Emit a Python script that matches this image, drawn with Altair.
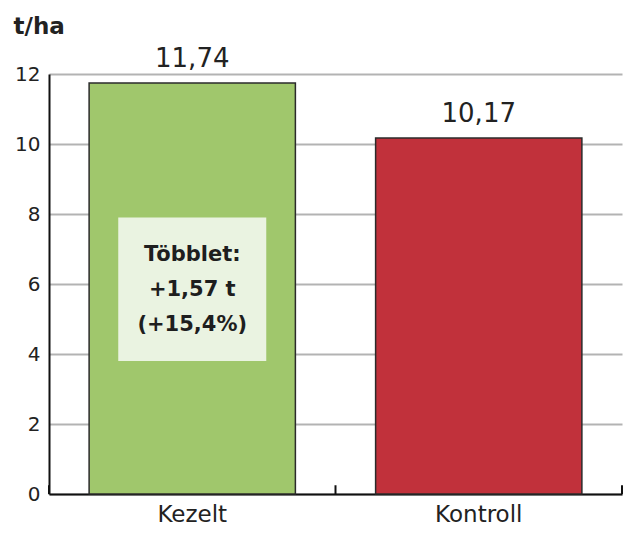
import altair as alt
import pandas as pd

categories = ["Kezelt", "Kontroll"]
values = [11.74, 10.17]
colors = ["#a0c76c", "#c1313b"]
value_labels = ["11,74", "10,17"]
y_ticks = [0, 2, 4, 6, 8, 10, 12]
box_category = ["Kezelt"]
box_top = [7.9]
box_bottom = [3.8]
box_text_pos = [6.83]
box_lines = ["Többlet:", "+1,57 t", "(+15,4%)"]
tick_positions = [0, 1, 2]

FONT = "DejaVu Sans"
W, H = 573, 420

df = pd.DataFrame({"cat": categories, "val": values, "label": value_labels})
box_df = pd.DataFrame({"cat": box_category, "val": box_top, "val2": box_bottom})
txt_df = pd.DataFrame({"cat": box_category, "val": box_text_pos})
txt_df["txt"] = [box_lines]
tick_df = pd.DataFrame({"pos": tick_positions})

xscale = alt.Scale(domain=categories, paddingInner=0.28, paddingOuter=0.14)
x = alt.X("cat:N", sort=categories, scale=xscale,
          axis=alt.Axis(title=None, labelAngle=0, labelFontSize=23, labelFont=FONT,
                        labelColor="#222", labelPadding=9, ticks=False,
                        domainColor="#111", domainWidth=2))
yscale = alt.Scale(domain=[0, 12])
y = alt.Y("val:Q", scale=yscale,
          axis=alt.Axis(values=y_ticks, title="t/ha", titleAngle=0, titleAlign="left",
                        titleBaseline="alphabetic", titleX=-36, titleY=-41,
                        titleFontSize=23, titleFont=FONT, titleFontWeight="bold",
                        titleColor="#222", labelFontSize=20, labelFont=FONT,
                        labelColor="#222", labelPadding=9, ticks=False,
                        domainColor="#111", domainWidth=2,
                        gridColor="#b3b3b3", gridWidth=2))

bars = alt.Chart(df).mark_bar(stroke="#2b2b2b", strokeWidth=1.5).encode(
    x=x, y=y,
    color=alt.Color("cat:N", scale=alt.Scale(domain=categories, range=colors), legend=None),
)

labels = alt.Chart(df).mark_text(font=FONT, fontSize=26, color="#222",
                                 baseline="alphabetic", dy=-16).encode(
    x=x, y=y, text="label:N")

box = alt.Chart(box_df).mark_bar(size=148, color="#eaf3e1").encode(
    x=x, y=y, y2="val2:Q")

box_text = alt.Chart(txt_df).mark_text(font=FONT, fontSize=21, fontWeight="bold",
                                       color="#1e1e1e", lineHeight=35,
                                       baseline="middle").encode(
    x=x, y=y, text="txt")

main = alt.layer(bars, box, box_text, labels)

ticks = alt.Chart(tick_df).mark_rule(color="#111", strokeWidth=2).encode(
    x=alt.X("pos:Q", scale=alt.Scale(domain=[0, 2], nice=False), axis=None),
    y=alt.datum(0),
    y2=alt.datum(0.25),
)

chart = alt.layer(main, ticks).resolve_scale(x="independent").properties(
    width=W, height=H,
    padding={"left": 41, "top": 66, "right": 3, "bottom": 38},
    autosize=alt.AutoSizeParams(type="none"),
).configure_view(stroke=None)

chart.save("out.html", embed_options={"renderer": "svg", "actions": False})
